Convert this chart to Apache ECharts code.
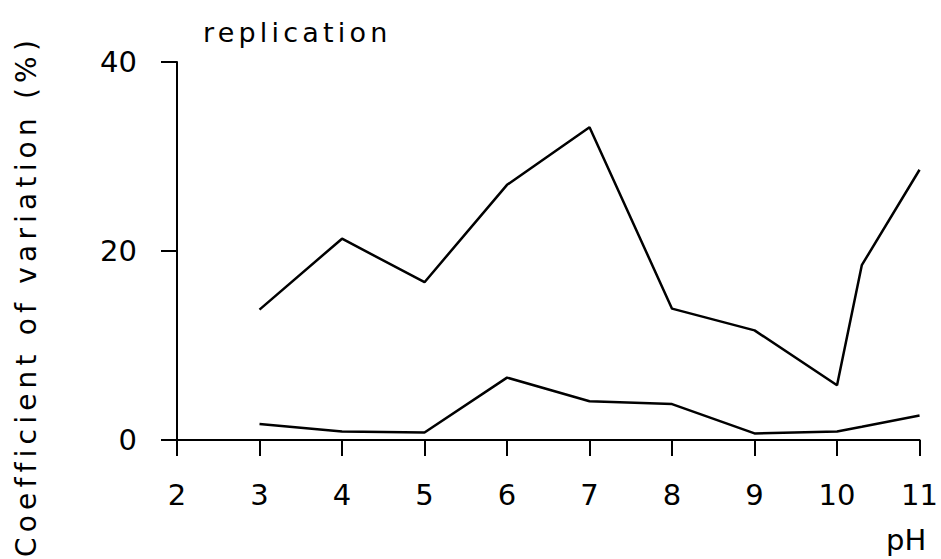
<!DOCTYPE html>
<html>
<head>
<meta charset="utf-8">
<script src="https://cdn.jsdelivr.net/npm/echarts@6/dist/echarts.min.js"></script>
<style>html,body{margin:0;padding:0;background:#fff;}#c{width:941px;height:559px;}</style>
</head>
<body>
<div id="c"></div>
<script>
var phValues = [3, 4, 5, 6, 7, 8, 9, 10, 10.3, 11];
var upperCV = [13.8, 21.3, 16.7, 27.0, 33.1, 13.9, 11.6, 5.8, 18.5, 28.6];
var lowerCV = [1.7, 0.9, 0.8, 6.6, 4.1, 3.8, 0.7, 0.9, 1.4, 2.6];
var xTicks = [2, 3, 4, 5, 6, 7, 8, 9, 10, 11];
var yTicks = [0, 20, 40];
var titleText = 'replication';
var yName = 'Coefficient of variation (%)';
var xName = 'pH';

var FONT = 'DejaVu Sans';
var chart = echarts.init(document.getElementById('c'), null, {renderer: 'svg'});
function pairs(xs, ys) { return xs.map(function (x, i) { return [x, ys[i]]; }); }

chart.setOption({
  backgroundColor: '#fff',
  animation: false,
  title: [
    {text: titleText, left: 198, top: 14,
     textStyle: {fontFamily: FONT, fontSize: 27, fontWeight: 'normal', color: '#000'}},
    {text: xName, left: 881, top: 520,
     textStyle: {fontFamily: FONT, fontSize: 29, fontWeight: 'normal', color: '#000'}}
  ],
  graphic: [{
    type: 'text', x: 26, y: 296, rotation: Math.PI / 2,
    style: {text: yName, font: '28px "DejaVu Sans"',
            fill: '#000', textAlign: 'center', textVerticalAlign: 'middle'}
  }],
  grid: {left: 177, right: 18, top: 62, bottom: 119, containLabel: false},
  xAxis: {
    type: 'value', min: xTicks[0], max: xTicks[xTicks.length - 1], interval: 1,
    axisLine: {lineStyle: {color: '#000', width: 2}},
    axisTick: {show: true, length: 16, lineStyle: {color: '#000', width: 2}},
    axisLabel: {margin: 40, color: '#000', fontFamily: FONT, fontSize: 29,
                formatter: function (v) { return xTicks.indexOf(v) >= 0 ? String(v) : ''; }},
    splitLine: {show: false}
  },
  yAxis: {
    type: 'value', min: yTicks[0], max: yTicks[yTicks.length - 1], interval: 20,
    axisLine: {show: true, lineStyle: {color: '#000', width: 2}},
    axisTick: {show: true, length: 16, lineStyle: {color: '#000', width: 2}},
    axisLabel: {margin: 40, color: '#000', fontFamily: FONT, fontSize: 29},
    splitLine: {show: false}
  },
  series: [
    {type: 'line', data: pairs(phValues, upperCV), symbol: 'none',
     lineStyle: {color: '#000', width: 2.5}},
    {type: 'line', data: pairs(phValues, lowerCV), symbol: 'none',
     lineStyle: {color: '#000', width: 2.5}}
  ]
});

function spaceLetters() {
  var texts = document.querySelectorAll('#c svg text');
  texts.forEach(function (t) {
    var s = t.textContent;
    if (s === yName) { t.style.letterSpacing = '5.2px'; }
    else if (s === titleText) { t.style.letterSpacing = '4.2px'; }
  });
}
spaceLetters();
chart.on('finished', spaceLetters);
setTimeout(spaceLetters, 0);
setTimeout(spaceLetters, 100);
</script>
</body>
</html>
